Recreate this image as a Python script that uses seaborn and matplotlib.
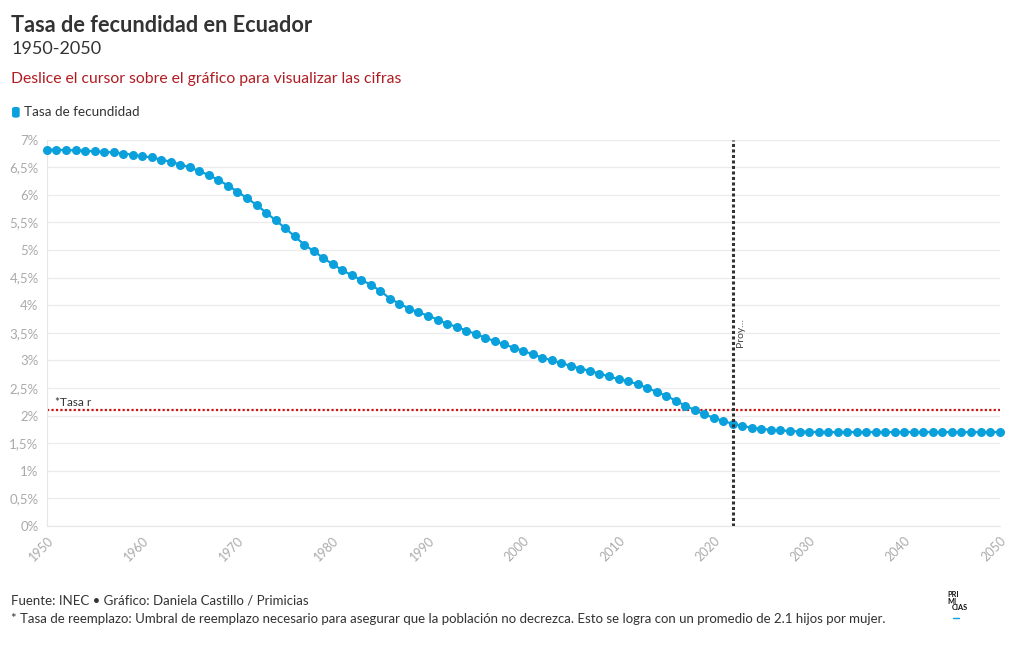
import numpy as np
import pandas as pd
import seaborn as sns
import matplotlib.pyplot as plt
from matplotlib.patches import FancyBboxPatch
from matplotlib.lines import Line2D
from matplotlib.ticker import FuncFormatter

# Datos (tasa de fecundidad, hijos por mujer)
years = list(range(1950, 2051))
fecundidad = [
    6.82, 6.82, 6.81, 6.81, 6.80, 6.79, 6.78, 6.77, 6.75, 6.73,   # 1950-1959
    6.70, 6.68, 6.64, 6.60, 6.55, 6.50, 6.43, 6.36, 6.27, 6.17,   # 1960-1969
    6.06, 5.94, 5.82, 5.68, 5.54, 5.40, 5.25, 5.10, 4.98, 4.86,   # 1970-1979
    4.74, 4.64, 4.54, 4.46, 4.37, 4.26, 4.12, 4.03, 3.94, 3.87,   # 1980-1989
    3.81, 3.74, 3.66, 3.61, 3.54, 3.48, 3.41, 3.35, 3.29, 3.23,   # 1990-1999
    3.17, 3.11, 3.05, 3.00, 2.95, 2.90, 2.85, 2.81, 2.76, 2.71,   # 2000-2009
    2.66, 2.62, 2.57, 2.50, 2.43, 2.36, 2.27, 2.18, 2.10, 2.02,   # 2010-2019
    1.96, 1.90, 1.85, 1.81, 1.78, 1.76, 1.74, 1.73, 1.72, 1.71,   # 2020-2029
    1.705, 1.70, 1.70, 1.70, 1.70, 1.70, 1.70, 1.70, 1.70, 1.70,  # 2030-2039
    1.70, 1.70, 1.70, 1.70, 1.70, 1.70, 1.70, 1.70, 1.70, 1.70,   # 2040-2049
    1.70,                                                         # 2050
]
tasa_reemplazo = 2.1
anio_proyeccion = 2022
x_ticks = list(range(1950, 2051, 10))
y_ticks = [0, 0.5, 1, 1.5, 2, 2.5, 3, 3.5, 4, 4.5, 5, 5.5, 6, 6.5, 7]

df = pd.DataFrame({'Año': years, 'Tasa de fecundidad': fecundidad})

sns.set_style('white')
plt.rcParams['font.family'] = ['Lato', 'DejaVu Sans']

azul = '#0aa0dc'
fig = plt.figure(figsize=(10.2, 6.5), dpi=100)
ax = fig.add_axes([0.046, 0.191, 0.934, 0.594])

sns.lineplot(data=df, x='Año', y='Tasa de fecundidad', ax=ax, color=azul,
             linewidth=1.6, marker='o', markersize=6.5, markeredgewidth=0,
             zorder=3, clip_on=False)

# lineas de referencia
ax.axhline(tasa_reemplazo, color='#cc1111', linestyle=(0, (1, 1)), linewidth=1.6, zorder=2)
ax.text(1950.8, tasa_reemplazo + 0.08, '*Tasa r', fontsize=8.5, color='#333333')
ax.axvline(anio_proyeccion, color='#333333', linestyle=(0, (1, 0.8)), linewidth=2.2, zorder=4)
ax.text(anio_proyeccion + 0.3, 3.25, 'Proy...', rotation=90, fontsize=7.5,
        color='#444444', va='bottom', ha='left')

ax.set_xlim(1950, 2050)
ax.set_ylim(0, 7)
ax.set_xticks(x_ticks)
ax.set_yticks(y_ticks)
ax.yaxis.set_major_formatter(FuncFormatter(lambda v, p: ('%g' % v).replace('.', ',') + '%'))
ax.grid(axis='y', color='#ebebeb', linewidth=0.9)
ax.tick_params(axis='x', rotation=45, labelsize=9, labelcolor='#aaaaaa',
               length=5, color='#e6e6e6', pad=1)
ax.tick_params(axis='y', labelsize=9.5, labelcolor='#aaaaaa', length=0, pad=6)
for lbl in ax.get_xticklabels():
    lbl.set_ha('right')
    lbl.set_rotation_mode('anchor')
for s in ['top', 'right']:
    ax.spines[s].set_visible(False)
ax.spines['left'].set_color('#e6e6e6')
ax.spines['bottom'].set_color('#e6e6e6')
ax.set_xlabel('')
ax.set_ylabel('')

# titulos
fig.text(0.011, 0.951, 'Tasa de fecundidad en Ecuador', fontsize=15.7, fontweight='bold',
         color='#333333', va='baseline')
fig.text(0.011, 0.917, '1950-2050', fontsize=13, color='#333333', va='baseline')
fig.text(0.011, 0.873, 'Deslice el cursor sobre el gráfico para visualizar las cifras',
         fontsize=11.3, color='#b01c22', va='baseline')

# leyenda
fig.patches.append(FancyBboxPatch((0.0118, 0.819), 0.0075, 0.0165,
                                  boxstyle='round,pad=0,rounding_size=0.003',
                                  transform=fig.transFigure, facecolor=azul,
                                  edgecolor='none'))
fig.text(0.0235, 0.828, 'Tasa de fecundidad', fontsize=9.7, color='#333333', va='center')

# pie
fig.text(0.011, 0.076, 'Fuente: INEC • Gráfico: Daniela Castillo / Primicias',
         fontsize=9.5, color='#333333', va='center')
fig.text(0.011, 0.048, '* Tasa de reemplazo: Umbral de reemplazo necesario para asegurar que la '
         'población no decrezca. Esto se logra con un promedio de 2.1 hijos por mujer.',
         fontsize=9.5, color='#333333', va='center')
fig.text(0.929, 0.0815, 'PRI', fontsize=5.3, fontweight='bold', color='#111111', va='baseline')
fig.text(0.929, 0.0715, 'MI', fontsize=5.3, fontweight='bold', color='#111111', va='baseline')
fig.text(0.9335, 0.0615, 'CIAS', fontsize=5.3, fontweight='bold', color='#111111', va='baseline')
fig.add_artist(Line2D([0.934, 0.940], [0.049, 0.049], transform=fig.transFigure,
                      color=azul, linewidth=1))

plt.savefig('out.png', dpi=100)
